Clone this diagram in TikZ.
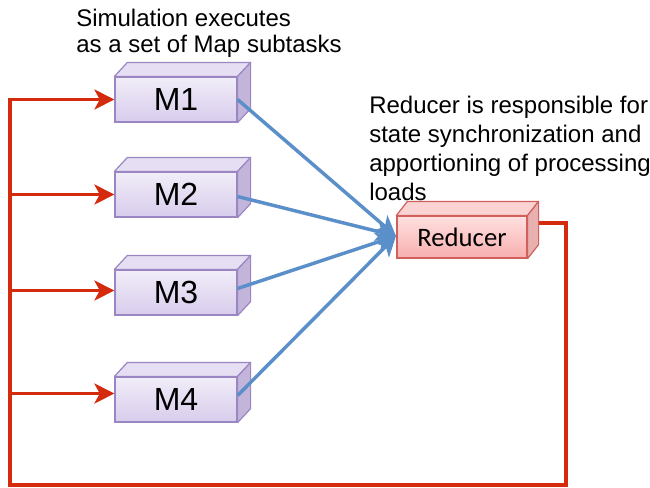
\documentclass[tikz,border=0pt]{standalone}
\usepackage{fontspec}
\setmainfont{Liberation Sans}
\newfontfamily\calfont{Carlito}
\usetikzlibrary{arrows.meta,calc,backgrounds}
\definecolor{mEdge}{HTML}{9A86C2}
\definecolor{mTopG}{HTML}{F1EDF8}
\definecolor{mBotG}{HTML}{D8CCEC}
\definecolor{mLid}{HTML}{E6DEF3}
\definecolor{mSide}{HTML}{C3B5DA}
\definecolor{rEdge}{HTML}{D0605C}
\definecolor{rTopG}{HTML}{FFE0E0}
\definecolor{rBotG}{HTML}{F8AEAE}
\definecolor{rLid}{HTML}{FCD3D3}
\definecolor{rSide}{HTML}{E9B0B0}
\definecolor{loopRed}{HTML}{D42A0E}
\definecolor{flowBlue}{HTML}{5B8FC9}
\newcommand{\boxfaces}[6]{%
  \filldraw[draw=#6,line width=0.9pt,line join=round,fill=#4]
    (#1.north west) -- ++(#2,-#3) -- ($(#1.north east)+(#2,-#3)$) -- (#1.north east) -- cycle;
  \filldraw[draw=#6,line width=0.9pt,line join=round,fill=#5]
    (#1.north east) -- ++(#2,-#3) -- ($(#1.south east)+(#2,-#3)$) -- (#1.south east) -- cycle;}
\begin{document}
\begin{tikzpicture}[x=0.75pt,y=-0.75pt,
  mbox/.style={draw=mEdge,line width=0.9pt,top color=mTopG,bottom color=mBotG,
    minimum width=91.5pt,minimum height=33.75pt,inner sep=0pt,
    font=\fontsize{24}{28}\selectfont},
  rbox/.style={draw=rEdge,line width=0.9pt,top color=rTopG,bottom color=rBotG,
    minimum width=97.5pt,minimum height=31.5pt,inner sep=0pt,
    font=\calfont\fontsize{20}{24}\selectfont},
  note/.style={anchor=base west,align=left,inner sep=0pt},
  redline/.style={draw=loopRed,line width=2.3pt},
  redarrow/.style={redline,-{Stealth[length=15pt,width=15pt,inset=4pt]}},
  bluearrow/.style={draw=flowBlue,line width=2.6pt,-{Stealth[length=15pt,width=15pt,inset=4pt]}}]
\useasboundingbox (0,0) rectangle (650,487);

\node[mbox] (M1) at (176,99.5) {M1};
\node[mbox] (M2) at (176,194.5) {M2};
\node[mbox] (M3) at (176,292.5) {M3};
\node[mbox] (M4) at (176,399.5) {M4};
\node[rbox] (R) at (462,237) {Reducer};
\boxfaces{M1}{13}{14}{mLid}{mSide}{mEdge}
\boxfaces{M2}{13}{14}{mLid}{mSide}{mEdge}
\boxfaces{M3}{13}{14}{mLid}{mSide}{mEdge}
\boxfaces{M4}{13}{14}{mLid}{mSide}{mEdge}
\boxfaces{R}{11}{14}{rLid}{rSide}{rEdge}

% anchor base = baseline of the last line
\node[note,font=\fontsize{18}{19.5}\selectfont] (t1) at (76,52)
  {Simulation executes\\as a set of Map subtasks};
\node[note,font=\fontsize{18}{21.75}\selectfont] (t2) at (369,200)
  {Reducer is responsible for\\state synchronization and\\apportioning of processing\\loads};

\coordinate (BR) at (566,485);
\coordinate (BL) at (10,485);
\coordinate (T) at (396,236);

\begin{pgfonlayer}{background}
\draw[redarrow] ($(R.east)+(0,-14)$) -| (BR) -- (BL) |- (M1.west);
\end{pgfonlayer}
\draw[redarrow] (BL |- M2.west) -- (M2.west);
\draw[redarrow] ($(BL |- M3.west)+(0,-2)$) -- ($(M3.west)+(0,-2)$);
\draw[redarrow] ($(BL |- M4.west)+(0,-6)$) -- ($(M4.west)+(0,-6)$);

\draw[bluearrow] (M1.east) -- (T);
\draw[bluearrow] ($(M2.east)+(0,2)$) -- (T);
\draw[bluearrow] ($(M3.east)+(0,-4)$) -- (T);
\draw[bluearrow] ($(M4.east)+(0,-4)$) -- (T);
\end{tikzpicture}
\end{document}
